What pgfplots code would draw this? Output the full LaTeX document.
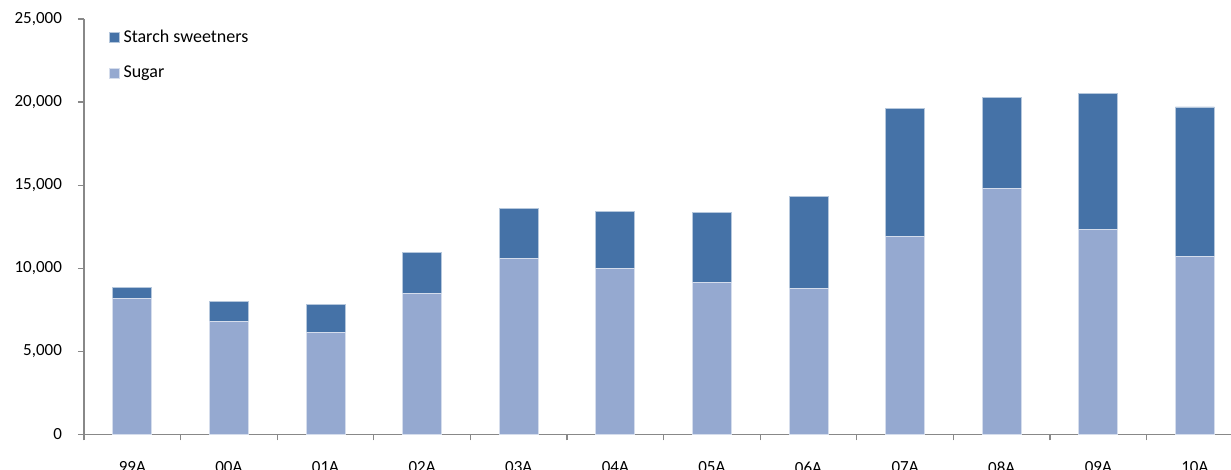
\documentclass[border=0pt]{standalone}
\usepackage{fontspec}
\setmainfont{Carlito}
\usepackage{pgfplots}
\pgfplotsset{compat=1.18}
\definecolor{starch}{HTML}{4572A7}
\definecolor{sugar}{HTML}{95A9D0}
\definecolor{axgray}{HTML}{888888}
\begin{document}
\begin{tikzpicture}
\begin{axis}[
  scale only axis,
  width=579.6pt, height=207.75pt,
  xmin=-0.5, xmax=11.5,
  ymin=0, ymax=25000,
  enlargelimits=false,
  ybar stacked,
  bar width=19.5pt,
  axis x line*=bottom,
  axis y line*=left,
  axis line style={draw=axgray, line width=0.6pt},
  tick align=outside,
  major tick length=3pt,
  tick style={draw=axgray, line width=0.6pt},
  xtick={-0.5,0.5,...,11.5},
  x tick label as interval,
  xticklabels={99A,00A,01A,02A,03A,04A,05A,06A,07A,08A,09A,10A},
  ytick={0,5000,...,25000},
  scaled y ticks=false,
  /pgf/number format/1000 sep={,},
  /pgf/number format/assume math mode=true,
  ticklabel style={font=\fontsize{8.5}{10}\selectfont, text=black},
  yticklabel style={xshift=-4.5pt},
  xticklabel style={yshift=-7pt},
  reverse legend,
  legend style={draw=none, fill=none, at={(0.021,0.985)}, anchor=north west,
    font=\fontsize{9}{10.5}\selectfont, row sep=6.5pt, inner sep=0pt},
  legend cell align=left,
  legend image code/.code={\fill[#1] (0pt,-2.5pt) rectangle (5pt,2.5pt);},
]
\addplot[fill=sugar, draw=white!60!sugar, line width=0.4pt] coordinates {
(0,8200) (1,6800) (2,6140) (3,8470) (4,10610) (5,9970)
(6,9140) (7,8790) (8,11940) (9,14830) (10,12340) (11,10710)};
\addlegendentry{Sugar}
\addplot[fill=starch, draw=white!60!starch, line width=0.4pt] coordinates {
(0,660) (1,1220) (2,1660) (3,2480) (4,2970) (5,3450)
(6,4200) (7,5540) (8,7660) (9,5460) (10,8190) (11,9000)};
\addlegendentry{Starch sweetners}
\end{axis}
\pgfresetboundingbox
\useasboundingbox (-42pt,-17.75pt) rectangle (573.5pt,217.25pt);
\end{tikzpicture}
\end{document}
